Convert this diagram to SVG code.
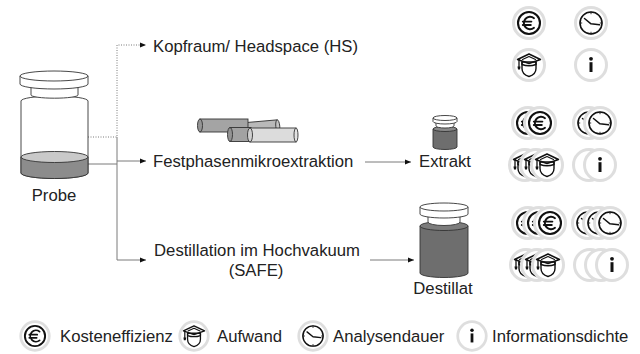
<svg xmlns="http://www.w3.org/2000/svg" xmlns:xlink="http://www.w3.org/1999/xlink" width="640" height="354" viewBox="0 0 640 354">
  <style>
    .lbl { font-family: "Liberation Sans", Arial, sans-serif; font-size: 16.7px; fill: #222; }
    .mid { text-anchor: middle; }
    .edge { fill: none; stroke: #7a7a7a; stroke-width: 1; }
    .dot { stroke-dasharray: 1 1.5; }
    .ol { stroke: #333; stroke-width: 0.9; }
    .ring { fill: #fff; stroke: #dedede; stroke-width: 3; }
    .ink { fill: none; stroke: #111; stroke-linecap: round; stroke-linejoin: round; }
  </style>
  <defs>
    <marker id="arr" markerUnits="userSpaceOnUse" markerWidth="6" markerHeight="6" refX="6" refY="3" orient="auto">
      <path d="M0,0.5 L6,3 L0,5.5 Z" fill="#111"/>
    </marker>
    <!-- rating icons, centred on 0,0 -->
    <g id="euro">
      <circle class="ring" r="15.5"/>
      <circle r="11" fill="#fff" stroke="#111" stroke-width="2.1"/>
      <path class="ink" stroke-width="1.9" d="M5,-4.8 A6.2,6.2 0 1 0 5,4.8 M-6.2,-1.4 H2.4 M-6.2,2 H1.8"/>
    </g>
    <g id="clock">
      <circle class="ring" r="15.5"/>
      <circle r="11" fill="#fff" stroke="#111" stroke-width="1.6"/>
      <path class="ink" stroke-width="0.9" d="M0,-11 V-9.2 M11,0 H9.2 M0,11 V9.2 M-11,0 H-9.2"/>
      <polyline class="ink" stroke-width="1.5" points="-6.5,-4.5 0,0.8 8.5,1.8"/>
    </g>
    <g id="hat">
      <circle class="ring" r="15.5"/>
      <path class="ink" fill="#fff" stroke-width="1.4" d="M-7,-3 V3.5 Q-7,9.5 0,11.5 Q7,9.5 7,3.5 V-3 Z"/>
      <path class="ink" fill="#fff" stroke-width="1.4" d="M-7,-3 V-0.5 Q0,2 7,-0.5 V-3"/>
      <polygon class="ink" fill="#fff" stroke-width="1.5" points="-11.5,-5.5 0,-11 11.5,-5.5 0,-1.5"/>
      <path class="ink" stroke-width="1.1" d="M-6.5,-5.5 L0,-8.5 L6.5,-5.5"/>
      <path class="ink" stroke-width="1.3" d="M-10,-5.5 V2"/>
      <path d="M-11.5,1.5 L-8.5,1.5 L-9,4.5 L-11,4.5 Z" fill="#111"/>
    </g>
    <g id="info">
      <circle class="ring" r="15.5"/>
      <circle cy="-6.2" r="1.9" fill="#111"/>
      <rect x="-1.5" y="-2.8" width="3" height="9.8" fill="#111"/>
    </g>
  </defs>

  <rect width="640" height="354" fill="#fff"/>

  <!-- connectors -->
  <g id="connectors">
    <path class="edge dot" d="M88,137 H117 V45 H146" marker-end="url(#arr)"/>
    <path class="edge" d="M88,164 H117"/>
    <path class="edge" d="M117,137 V260"/>
    <path class="edge" d="M117,161 H146" marker-end="url(#arr)"/>
    <path class="edge" d="M117,260 H146" marker-end="url(#arr)"/>
    <path class="edge" d="M365,162 H411" marker-end="url(#arr)"/>
    <path class="edge" d="M370,260 H414" marker-end="url(#arr)"/>
  </g>

  <!-- sample jar -->
  <g id="probe">
    <path class="ol" fill="#fff" d="M21,101 A33.5,5 0 0 1 88,101 V173 A33.5,5.5 0 0 1 21,173 Z"/>
    <path class="ol" fill="#8c8c8c" d="M21,157 V173 A33.5,5.5 0 0 0 88,173 V157 Z"/>
    <ellipse class="ol" cx="54.5" cy="157" rx="33.5" ry="5.5" fill="#c9c9c9"/>
    <path class="ol" fill="#fff" d="M31,86 V95 A23.5,3.2 0 0 0 78,95 V86 Z"/>
    <path class="ol" fill="#fff" d="M20,76 V84 A34,5 0 0 0 88,84 V76 Z"/>
    <ellipse class="ol" cx="54" cy="76" rx="34" ry="5" fill="#fff"/>
    <text class="lbl mid" x="54" y="201">Probe</text>
  </g>

  <g id="headspace">
    <text class="lbl" x="153" y="52">Kopfraum/ Headspace (HS)</text>
  </g>

  <!-- SPME fibres -->
  <g id="spme">
    <g transform="rotate(-5 253 130)">
      <rect class="ol" x="229" y="122" width="49" height="13" fill="#b9b9b9"/>
      <ellipse class="ol" cx="278" cy="128.5" rx="2" ry="6.5" fill="#c4c4c4"/>
    </g>
    <rect class="ol" x="200" y="119" width="48" height="13" fill="#a4a4a4"/>
    <ellipse class="ol" cx="200" cy="125.5" rx="2.5" ry="6.5" fill="#959595"/>
    <rect class="ol" x="230" y="127.5" width="21" height="14" fill="#a2a2a2"/>
    <ellipse class="ol" cx="230" cy="134.5" rx="2.5" ry="7" fill="#939393"/>
    <rect class="ol" x="250" y="128" width="46" height="14" fill="#dcdcdc"/>
    <ellipse class="ol" cx="250" cy="135" rx="2.5" ry="7" fill="#cfcfcf"/>
    <ellipse class="ol" cx="296" cy="135" rx="2" ry="7" fill="#e2e2e2"/>
    <text class="lbl" x="153" y="167">Festphasenmikroextraktion</text>
  </g>

  <!-- small extract vial -->
  <g id="extrakt">
    <path class="ol" fill="#6e6e6e" d="M433,129 V147 A12,2.5 0 0 0 457,147 V129 Z"/>
    <ellipse class="ol" cx="445" cy="129" rx="12" ry="2.5" fill="#8a8a8a"/>
    <path class="ol" fill="#fff" d="M436,122 V126 A9,2 0 0 0 454,126 V122 Z"/>
    <path class="ol" fill="#fff" d="M433,118 V121.5 A12,2.5 0 0 0 457,121.5 V118 Z"/>
    <ellipse class="ol" cx="445" cy="118" rx="12" ry="2.5" fill="#fff"/>
    <text class="lbl" x="419" y="167">Extrakt</text>
  </g>

  <g id="safe">
    <text class="lbl mid" x="257" y="256">Destillation im Hochvakuum</text>
    <text class="lbl mid" x="256" y="276">(SAFE)</text>
  </g>

  <!-- distillate vessel -->
  <g id="destillat">
    <path class="ol" fill="#6e6e6e" d="M420,226 V273 A24,4.5 0 0 0 468,273 V226 Z"/>
    <ellipse class="ol" cx="444" cy="226" rx="24" ry="4.5" fill="#7c7c7c"/>
    <path class="ol" fill="#fff" d="M428,214 V222 A16,3.5 0 0 0 460,222 V214 Z"/>
    <path class="ol" fill="#fff" d="M420,207 V214 A24,4 0 0 0 468,214 V207 Z"/>
    <ellipse class="ol" cx="444" cy="207" rx="24" ry="4" fill="#fff"/>
    <text class="lbl mid" x="443" y="294">Destillat</text>
  </g>

  <!-- ratings: headspace -->
  <g id="rating-hs">
    <use xlink:href="#euro" x="529" y="23"/>
    <use xlink:href="#clock" x="591" y="23"/>
    <use xlink:href="#hat" x="529" y="65"/>
    <use xlink:href="#info" x="591" y="65"/>
  </g>

  <!-- ratings: SPME -->
  <g id="rating-spme">
    <use xlink:href="#euro" x="528" y="123"/>
    <use xlink:href="#euro" x="540" y="123"/>
    <use xlink:href="#clock" x="589" y="123"/>
    <use xlink:href="#clock" x="600" y="123"/>
    <use xlink:href="#hat" x="525" y="165"/>
    <use xlink:href="#hat" x="536" y="165"/>
    <use xlink:href="#hat" x="547" y="165"/>
    <use xlink:href="#info" x="589" y="165"/>
    <use xlink:href="#info" x="600" y="165"/>
  </g>

  <!-- ratings: SAFE -->
  <g id="rating-safe">
    <use xlink:href="#euro" x="528" y="223"/>
    <use xlink:href="#euro" x="539" y="223"/>
    <use xlink:href="#euro" x="550" y="223"/>
    <use xlink:href="#clock" x="588" y="223"/>
    <use xlink:href="#clock" x="599" y="223"/>
    <use xlink:href="#clock" x="610" y="223"/>
    <use xlink:href="#hat" x="526" y="265"/>
    <use xlink:href="#hat" x="537" y="265"/>
    <use xlink:href="#hat" x="548" y="265"/>
    <use xlink:href="#info" x="590" y="265"/>
    <use xlink:href="#info" x="601" y="265"/>
    <use xlink:href="#info" x="612" y="265"/>
  </g>

  <!-- legend -->
  <g id="legend">
    <use xlink:href="#euro" transform="translate(35 336) scale(0.92)"/>
    <text class="lbl" x="60" y="342">Kosteneffizienz</text>
    <use xlink:href="#hat" transform="translate(194 336) scale(0.92)"/>
    <text class="lbl" x="217" y="342">Aufwand</text>
    <use xlink:href="#clock" transform="translate(313 336) scale(0.92)"/>
    <text class="lbl" x="333" y="342">Analysendauer</text>
    <use xlink:href="#info" transform="translate(472 336) scale(0.92)"/>
    <text class="lbl" x="492" y="342">Informationsdichte</text>
  </g>
</svg>
